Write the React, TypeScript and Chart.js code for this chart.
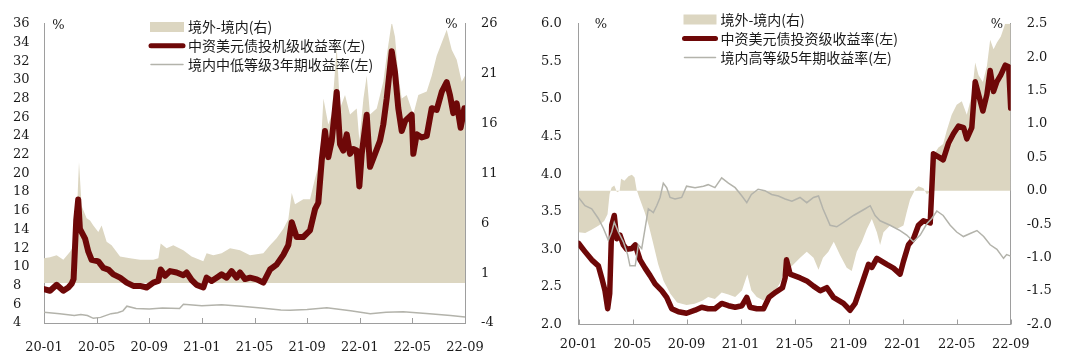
import React, { useEffect, useRef } from 'react';
import { Chart, registerables } from 'chart.js';

Chart.register(...registerables);

// ---------------- shared ----------------
const X_TICK_MONTHS = [0, 4, 8, 12, 16, 20, 24, 28, 32];
const X_TICK_LABELS = ['20-01', '20-05', '20-09', '21-01', '21-05', '21-09', '22-01', '22-05', '22-09'];

const AREA_COLOR = '#DCD6C1';
const RED_COLOR = '#6E0808';
const GRAY_COLOR = '#B3B3AB';
const AXIS_COLOR = '#9E9E9E';
const TEXT_COLOR = '#1A1A1A';
const SERIF = '"DejaVu Serif", "Liberation Serif", serif';
const SANS = '"Noto Sans CJK SC", "Noto Sans", sans-serif';

// ---------------- left panel ----------------
const L_LABEL_SPREAD = '境外-境内(右)';
const L_LABEL_OFFSHORE = '中资美元债投机级收益率(左)';
const L_LABEL_ONSHORE = '境内中低等级3年期收益率(左)';

const L_Y_TICKS = [4, 6, 8, 10, 12, 14, 16, 18, 20, 22, 24, 26, 28, 30, 32, 34, 36];
const L_Y_TICK_LABELS = ['4', '6', '8', '10', '12', '14', '16', '18', '20', '22', '24', '26', '28', '30', '32', '34', '36'];
const L_Y2_TICKS = [-4, 1, 6, 11, 16, 21, 26];
const L_Y2_TICK_LABELS = ['-4', '1', '6', '11', '16', '21', '26'];

const L_OFFSHORE_M = [0, 0.46, 0.96, 1.47, 1.85, 2.1, 2.25, 2.45, 2.6, 2.73, 3.12, 3.37, 3.62, 4.13, 4.51, 4.89, 5.27, 5.78, 6.28, 6.79, 7.3, 7.8, 8.31, 8.69, 8.87, 9.2, 9.58, 10.08, 10.59, 10.84, 11.22, 11.6, 12.11, 12.36, 12.74, 13.12, 13.5, 13.88, 14.26, 14.64, 14.9, 15.28, 15.66, 16.17, 16.67, 17.18, 17.68, 18.19, 18.57, 18.83, 19.2, 19.71, 20.22, 20.6, 20.85, 21.11, 21.36, 21.61, 21.87, 22.25, 22.5, 22.75, 23.01, 23.26, 23.51, 23.77, 23.97, 24.15, 24.53, 24.78, 25.16, 25.54, 25.79, 26.05, 26.43, 26.68, 26.93, 27.19, 27.44, 27.69, 27.95, 28.07, 28.33, 28.71, 29.09, 29.47, 29.85, 30.23, 30.61, 30.86, 31.11, 31.37, 31.67, 31.95];
const L_OFFSHORE = [7.63, 7.45, 8.08, 7.45, 7.8, 8.2, 8.7, 15.0, 17.21, 14.07, 13.03, 11.63, 10.76, 10.59, 9.89, 9.72, 9.2, 8.85, 8.32, 7.97, 7.97, 7.8, 8.32, 8.5, 9.72, 9.05, 9.55, 9.4, 9.1, 9.4, 8.6, 8.08, 7.8, 8.85, 8.5, 8.85, 9.2, 8.85, 9.55, 8.85, 9.4, 8.7, 8.85, 8.67, 8.32, 9.72, 10.24, 11.29, 12.33, 14.77, 13.2, 13.2, 13.9, 16.17, 16.86, 21.39, 24.53, 21.74, 23.49, 28.71, 23.14, 22.44, 24.18, 22.09, 22.61, 22.44, 18.61, 22.09, 26.27, 20.7, 22.09, 23.49, 25.23, 28.02, 33.07, 30.8, 26.97, 24.53, 25.58, 25.93, 26.27, 22.09, 24.18, 23.84, 24.01, 26.97, 26.8, 28.71, 29.76, 28.36, 26.45, 27.49, 24.88, 26.97];

const L_ONSHORE_M = [0, 1.2, 2.3, 2.8, 3.3, 3.75, 4.3, 5.1, 5.6, 6.0, 6.3, 7.0, 8.0, 9.0, 10.3, 10.6, 12.0, 13.5, 15.0, 16.5, 18.0, 18.7, 20.0, 21.5, 23.3, 24.8, 26.0, 27.3, 29.3, 30.9, 32];
const L_ONSHORE = [5.15, 5.0, 4.8, 4.9, 4.8, 4.5, 4.6, 5.0, 5.1, 5.3, 5.8, 5.55, 5.5, 5.6, 5.55, 6.0, 5.85, 5.95, 5.8, 5.6, 5.4, 5.36, 5.45, 5.64, 5.3, 5.0, 5.15, 5.2, 5.0, 4.8, 4.65];

const L_SPREAD_M = [0, 0.46, 0.96, 1.47, 1.98, 2.36, 2.53, 2.66, 2.86, 3.24, 3.5, 3.75, 4.13, 4.38, 4.76, 5.14, 5.78, 6.54, 7.3, 8.31, 8.69, 8.87, 9.32, 9.83, 10.59, 11.22, 12.11, 12.36, 12.87, 13.5, 14.14, 14.9, 15.66, 16.67, 17.18, 17.68, 18.19, 18.57, 18.83, 19.08, 19.71, 20.22, 20.6, 20.98, 21.24, 21.61, 21.87, 22.25, 22.5, 22.88, 23.26, 23.77, 23.97, 24.28, 24.53, 24.78, 25.29, 25.79, 26.05, 26.43, 26.68, 26.93, 27.19, 27.57, 28.07, 28.45, 29.09, 29.47, 29.85, 30.23, 30.61, 30.99, 31.37, 31.75, 32.0];
const L_SPREAD = [2.5, 2.6, 2.8, 2.34, 3.15, 4.0, 8.0, 12.15, 7.74, 6.5, 6.27, 5.77, 5.12, 5.77, 4.14, 3.8, 2.67, 2.5, 2.34, 2.34, 2.5, 3.98, 3.49, 3.8, 3.3, 2.67, 2.18, 3.0, 2.8, 3.0, 3.49, 3.3, 2.8, 3.0, 3.8, 4.5, 5.45, 6.4, 9.04, 7.9, 8.4, 8.4, 10.5, 12.3, 18.5, 15.9, 16.9, 23.7, 17.5, 18.85, 16.9, 17.5, 14.3, 18.5, 20.8, 16.9, 17.5, 20.2, 22.8, 26.2, 24.7, 20.8, 18.5, 18.85, 16.9, 18.85, 19.2, 20.8, 22.8, 24.1, 25.4, 23.4, 22.4, 20.2, 20.8];

// ---------------- right panel ----------------
const R_LABEL_SPREAD = '境外-境内(右)';
const R_LABEL_OFFSHORE = '中资美元债投资级收益率(左)';
const R_LABEL_ONSHORE = '境内高等级5年期收益率(左)';

const R_Y_TICKS = [2.0, 2.5, 3.0, 3.5, 4.0, 4.5, 5.0, 5.5, 6.0];
const R_Y_TICK_LABELS = ['2.0', '2.5', '3.0', '3.5', '4.0', '4.5', '5.0', '5.5', '6.0'];
const R_Y2_TICKS = [-2.0, -1.5, -1.0, -0.5, 0.0, 0.5, 1.0, 1.5, 2.0, 2.5];
const R_Y2_TICK_LABELS = ['-2.0', '-1.5', '-1.0', '-0.5', '0.0', '0.5', '1.0', '1.5', '2.0', '2.5'];

const R_OFFSHORE_M = [0, 0.48, 0.98, 1.47, 1.72, 1.96, 2.16, 2.31, 2.46, 2.65, 2.83, 3.07, 3.32, 3.57, 3.94, 4.2, 4.56, 4.93, 5.3, 5.67, 6.16, 6.53, 6.9, 7.4, 8.0, 8.63, 9.12, 9.6, 10.1, 10.6, 11.1, 11.6, 12.1, 12.46, 12.7, 13.2, 13.7, 14.1, 14.6, 15.1, 15.3, 15.4, 15.67, 16.41, 16.9, 17.4, 17.9, 18.38, 18.88, 19.62, 20.11, 20.48, 20.98, 21.47, 21.72, 22.09, 22.46, 22.83, 23.32, 23.81, 24.06, 24.43, 24.8, 25.17, 25.54, 26.04, 26.28, 26.65, 27.0, 27.39, 27.77, 28.14, 28.51, 28.75, 29.12, 29.37, 29.62, 29.94, 30.24, 30.48, 30.73, 30.98, 31.27, 31.6, 31.85, 32.0];
const R_OFFSHORE = [3.08, 2.97, 2.86, 2.78, 2.62, 2.45, 2.21, 2.41, 3.32, 3.45, 3.14, 3.19, 3.06, 3.0, 3.01, 3.06, 2.86, 2.75, 2.65, 2.54, 2.45, 2.36, 2.21, 2.17, 2.15, 2.19, 2.23, 2.21, 2.21, 2.28, 2.25, 2.23, 2.25, 2.36, 2.23, 2.21, 2.21, 2.36, 2.43, 2.49, 2.62, 2.86, 2.67, 2.62, 2.58, 2.51, 2.45, 2.49, 2.36, 2.28, 2.19, 2.28, 2.54, 2.8, 2.76, 2.88, 2.84, 2.8, 2.75, 2.67, 2.84, 3.06, 3.14, 3.32, 3.38, 3.35, 4.27, 4.23, 4.19, 4.41, 4.54, 4.64, 4.62, 4.47, 4.62, 5.23, 5.06, 4.84, 5.06, 5.38, 5.1, 5.23, 5.32, 5.45, 5.43, 4.88];

const R_ONSHORE_M = [0, 0.48, 0.98, 1.47, 1.84, 2.21, 2.46, 2.65, 2.95, 3.32, 3.64, 3.81, 4.2, 4.43, 4.68, 4.93, 5.17, 5.54, 5.79, 6.04, 6.28, 6.53, 6.78, 7.15, 7.64, 8.0, 8.63, 9.25, 9.6, 10.1, 10.6, 11.1, 11.6, 12.1, 12.46, 12.8, 13.3, 13.8, 14.3, 14.8, 15.3, 15.8, 16.4, 16.9, 17.4, 17.77, 18.1, 18.63, 19.12, 19.62, 20.36, 21.23, 21.6, 21.96, 22.33, 23.07, 23.81, 24.3, 24.8, 25.3, 25.79, 26.16, 26.53, 27.0, 27.52, 28.0, 28.5, 29.0, 29.5, 30.0, 30.48, 30.98, 31.47, 31.7, 32.0];
const R_ONSHORE = [3.69, 3.58, 3.54, 3.41, 3.28, 3.12, 3.23, 3.36, 3.23, 3.1, 2.93, 2.78, 2.78, 3.06, 3.01, 3.28, 3.54, 3.49, 3.58, 3.69, 3.88, 3.82, 3.69, 3.67, 3.69, 3.84, 3.82, 3.84, 3.86, 3.82, 3.95, 3.88, 3.82, 3.71, 3.62, 3.73, 3.8, 3.78, 3.73, 3.71, 3.67, 3.64, 3.69, 3.62, 3.69, 3.71, 3.54, 3.32, 3.3, 3.36, 3.45, 3.54, 3.58, 3.45, 3.38, 3.32, 3.25, 3.19, 3.1, 3.19, 3.34, 3.41, 3.51, 3.45, 3.32, 3.23, 3.17, 3.21, 3.25, 3.17, 3.06, 3.0, 2.88, 2.93, 2.91];

const R_SPREAD_M = [0, 0.5, 1.0, 1.5, 1.9, 2.15, 2.3, 2.45, 2.65, 2.85, 3.05, 3.15, 3.4, 3.7, 3.95, 4.15, 4.3, 4.5, 4.9, 5.2, 5.5, 5.9, 6.3, 6.8, 7.3, 8.0, 8.6, 9.2, 9.6, 10.1, 10.6, 11.1, 11.6, 12.1, 12.5, 12.8, 13.2, 13.7, 14.2, 14.6, 15.0, 15.4, 15.67, 16.41, 16.9, 17.4, 17.77, 18.1, 18.5, 18.9, 19.36, 19.86, 20.23, 20.6, 20.98, 21.35, 21.72, 22.09, 22.33, 22.58, 23.07, 23.56, 24.06, 24.3, 24.55, 24.93, 25.17, 25.54, 25.79, 26.16, 26.33, 26.65, 27.0, 27.26, 27.63, 28.0, 28.38, 28.75, 29.12, 29.37, 29.62, 29.94, 30.24, 30.48, 30.73, 30.98, 31.27, 31.6, 31.85, 32.0];
const R_SPREAD = [-0.62, -0.63, -0.58, -0.52, -0.45, -0.35, -0.05, 0.05, 0.08, -0.02, 0.0, 0.18, 0.15, 0.22, 0.24, 0.2, 0.02, -0.1, -0.32, -0.52, -0.76, -1.1, -1.35, -1.54, -1.67, -1.71, -1.69, -1.64, -1.59, -1.62, -1.52, -1.55, -1.59, -1.49, -1.25, -1.49, -1.59, -1.64, -1.54, -1.49, -1.35, -1.1, -1.15, -1.0, -0.91, -1.0, -1.18, -1.0, -0.91, -0.76, -0.96, -1.15, -1.2, -0.91, -0.76, -0.57, -0.42, -0.62, -0.81, -0.62, -0.52, -0.57, -0.52, -0.32, -0.13, 0.02, 0.07, 0.04, -0.05, 0.0, 0.55, 0.65, 0.7, 0.9, 1.14, 1.29, 1.34, 1.14, 1.43, 1.92, 1.73, 1.63, 1.87, 2.26, 2.12, 2.22, 2.31, 2.51, 2.56, 2.5];

// ---------------- helpers ----------------
const pts = (xs: number[], ys: number[]) => xs.map((x, i) => ({ x, y: ys[i] }));

const decorPlugin = {
  id: 'decor',
  afterDraw(chart: any, _args: any, opts: any) {
    const { ctx, chartArea, scales } = chart;
    ctx.save();
    // inward x tick marks
    const xs = scales.x;
    ctx.strokeStyle = AXIS_COLOR;
    ctx.lineWidth = 1;
    xs.ticks.forEach((t: any) => {
      const px = Math.round(xs.getPixelForValue(t.value)) + 0.5;
      ctx.beginPath();
      ctx.moveTo(px, chartArea.bottom);
      ctx.lineTo(px, chartArea.bottom - opts.tickLen);
      ctx.stroke();
    });
    // unit labels
    ctx.fillStyle = TEXT_COLOR;
    ctx.font = `13px ${SERIF}`;
    ctx.textAlign = 'center';
    ctx.textBaseline = 'middle';
    opts.units.forEach((u: any) => ctx.fillText('%', u.x, u.y));
    // legend
    const lg = opts.legend;
    chart.data.datasets.forEach((ds: any, i: number) => {
      const y = lg.y + i * lg.gap;
      if (ds.fill) {
        ctx.fillStyle = ds.backgroundColor;
        ctx.fillRect(lg.x, y - 5, lg.w, 10);
      } else {
        ctx.strokeStyle = ds.borderColor;
        ctx.lineWidth = Math.min(ds.borderWidth, 5);
        ctx.lineCap = 'round';
        ctx.beginPath();
        ctx.moveTo(lg.x + 1, y);
        ctx.lineTo(lg.x + lg.w - 1, y);
        ctx.stroke();
      }
      ctx.fillStyle = TEXT_COLOR;
      ctx.font = `14px ${SANS}`;
      ctx.textAlign = 'left';
      ctx.textBaseline = 'middle';
      ctx.fillText(ds.label, lg.x + lg.w + 4, y);
    });
    ctx.restore();
  },
};

type PanelSpec = {
  spreadLabel: string; offLabel: string; onLabel: string;
  spread: { x: number; y: number }[]; off: { x: number; y: number }[]; on: { x: number; y: number }[];
  yTicks: number[]; yLabels: string[]; y2Ticks: number[]; y2Labels: string[];
  padLeft: number; padTop: number; yWidth: number; y2Width: number; xHeight: number; xPad: number;
  redWidth: number;
  legend: { x: number; y: number; gap: number; w: number };
  units: { x: number; y: number }[];
};

function buildConfig(p: PanelSpec): any {
  const tickFont = { family: SERIF, size: 13 };
  return {
    type: 'line',
    data: {
      datasets: [
        {
          label: p.spreadLabel, data: p.spread, yAxisID: 'y2', order: 2,
          fill: 'origin', backgroundColor: AREA_COLOR, borderWidth: 0, borderColor: AREA_COLOR,
          pointRadius: 0, tension: 0, clip: 0,
        },
        {
          label: p.offLabel, data: p.off, yAxisID: 'y', order: 1, fill: false,
          borderColor: RED_COLOR, borderWidth: p.redWidth, pointRadius: 0, tension: 0,
          borderJoinStyle: 'round', borderCapStyle: 'round',
        },
        {
          label: p.onLabel, data: p.on, yAxisID: 'y', order: 0, fill: false,
          borderColor: GRAY_COLOR, borderWidth: 1.5, pointRadius: 0, tension: 0,
        },
      ],
    },
    options: {
      animation: false,
      responsive: false,
      devicePixelRatio: 1,
      events: [],
      layout: { padding: { left: p.padLeft, top: p.padTop, right: 0, bottom: 0 } },
      plugins: {
        legend: { display: false },
        tooltip: { enabled: false },
        decor: { tickLen: 5, legend: p.legend, units: p.units },
      },
      scales: {
        x: {
          type: 'linear', position: 'bottom', min: 0, max: 32,
          afterBuildTicks: (s: any) => { s.ticks = X_TICK_MONTHS.map((v) => ({ value: v })); },
          ticks: {
            autoSkip: false, maxRotation: 0, minRotation: 0, padding: p.xPad,
            font: tickFont, color: TEXT_COLOR,
            callback: (_v: any, i: number) => X_TICK_LABELS[i],
          },
          grid: { display: false, drawTicks: false },
          border: { display: true, color: AXIS_COLOR, width: 1 },
          afterFit: (s: any) => { s.height = p.xHeight; },
        },
        y: {
          type: 'linear', position: 'left', min: p.yTicks[0], max: p.yTicks[p.yTicks.length - 1],
          afterBuildTicks: (s: any) => { s.ticks = p.yTicks.map((v) => ({ value: v })); },
          ticks: {
            crossAlign: 'far', padding: 0, font: tickFont, color: TEXT_COLOR,
            callback: (_v: any, i: number) => p.yLabels[i],
          },
          grid: { display: false, drawTicks: false },
          border: { display: true, color: AXIS_COLOR, width: 1 },
          afterFit: (s: any) => { s.width = p.yWidth; },
        },
        y2: {
          type: 'linear', position: 'right', min: p.y2Ticks[0], max: p.y2Ticks[p.y2Ticks.length - 1],
          afterBuildTicks: (s: any) => { s.ticks = p.y2Ticks.map((v) => ({ value: v })); },
          ticks: {
            padding: 16, font: tickFont, color: TEXT_COLOR,
            callback: (_v: any, i: number) => p.y2Labels[i],
          },
          grid: { display: false, drawTicks: false },
          border: { display: true, color: AXIS_COLOR, width: 1 },
          afterFit: (s: any) => { s.width = p.y2Width; },
        },
      },
    },
    plugins: [decorPlugin],
  };
}

function Panel({ spec, left }: { spec: PanelSpec; left: number }) {
  const ref = useRef<HTMLCanvasElement | null>(null);
  useEffect(() => {
    if (!ref.current) return;
    const chart = new Chart(ref.current, buildConfig(spec));
    return () => chart.destroy();
  }, []);
  return (
    <canvas
      ref={ref}
      width={540}
      height={363}
      style={{ position: 'absolute', left, top: 0, width: 540, height: 363, display: 'block' }}
    />
  );
}

const LEFT_SPEC: PanelSpec = {
  spreadLabel: L_LABEL_SPREAD, offLabel: L_LABEL_OFFSHORE, onLabel: L_LABEL_ONSHORE,
  spread: pts(L_SPREAD_M, L_SPREAD), off: pts(L_OFFSHORE_M, L_OFFSHORE), on: pts(L_ONSHORE_M, L_ONSHORE),
  yTicks: L_Y_TICKS, yLabels: L_Y_TICK_LABELS, y2Ticks: L_Y2_TICKS, y2Labels: L_Y2_TICK_LABELS,
  padLeft: 13, padTop: 17, yWidth: 31, y2Width: 75, xHeight: 40, xPad: 17,
  redWidth: 6,
  legend: { x: 150, y: 27, gap: 18.7, w: 34 },
  units: [{ x: 58.5, y: 26 }, { x: 451.5, y: 25 }],
};

const RIGHT_SPEC: PanelSpec = {
  spreadLabel: R_LABEL_SPREAD, offLabel: R_LABEL_OFFSHORE, onLabel: R_LABEL_ONSHORE,
  spread: pts(R_SPREAD_M, R_SPREAD), off: pts(R_OFFSHORE_M, R_OFFSHORE), on: pts(R_ONSHORE_M, R_ONSHORE),
  yTicks: R_Y_TICKS, yLabels: R_Y_TICK_LABELS, y2Ticks: R_Y2_TICKS, y2Labels: R_Y2_TICK_LABELS,
  padLeft: 1, padTop: 17.7, yWidth: 37.5, y2Width: 69.3, xHeight: 38.5, xPad: 12,
  redWidth: 5.5,
  legend: { x: 683.5 - 540, y: 19.5, gap: 19, w: 33 },
  units: [{ x: 61, y: 25 }, { x: 457, y: 25 }],
};

export default function App() {
  return (
    <div style={{ position: 'fixed', left: 0, top: 0, width: 1080, height: 363, background: '#fff' }}>
      <Panel spec={LEFT_SPEC} left={0} />
      <Panel spec={RIGHT_SPEC} left={540} />
    </div>
  );
}
